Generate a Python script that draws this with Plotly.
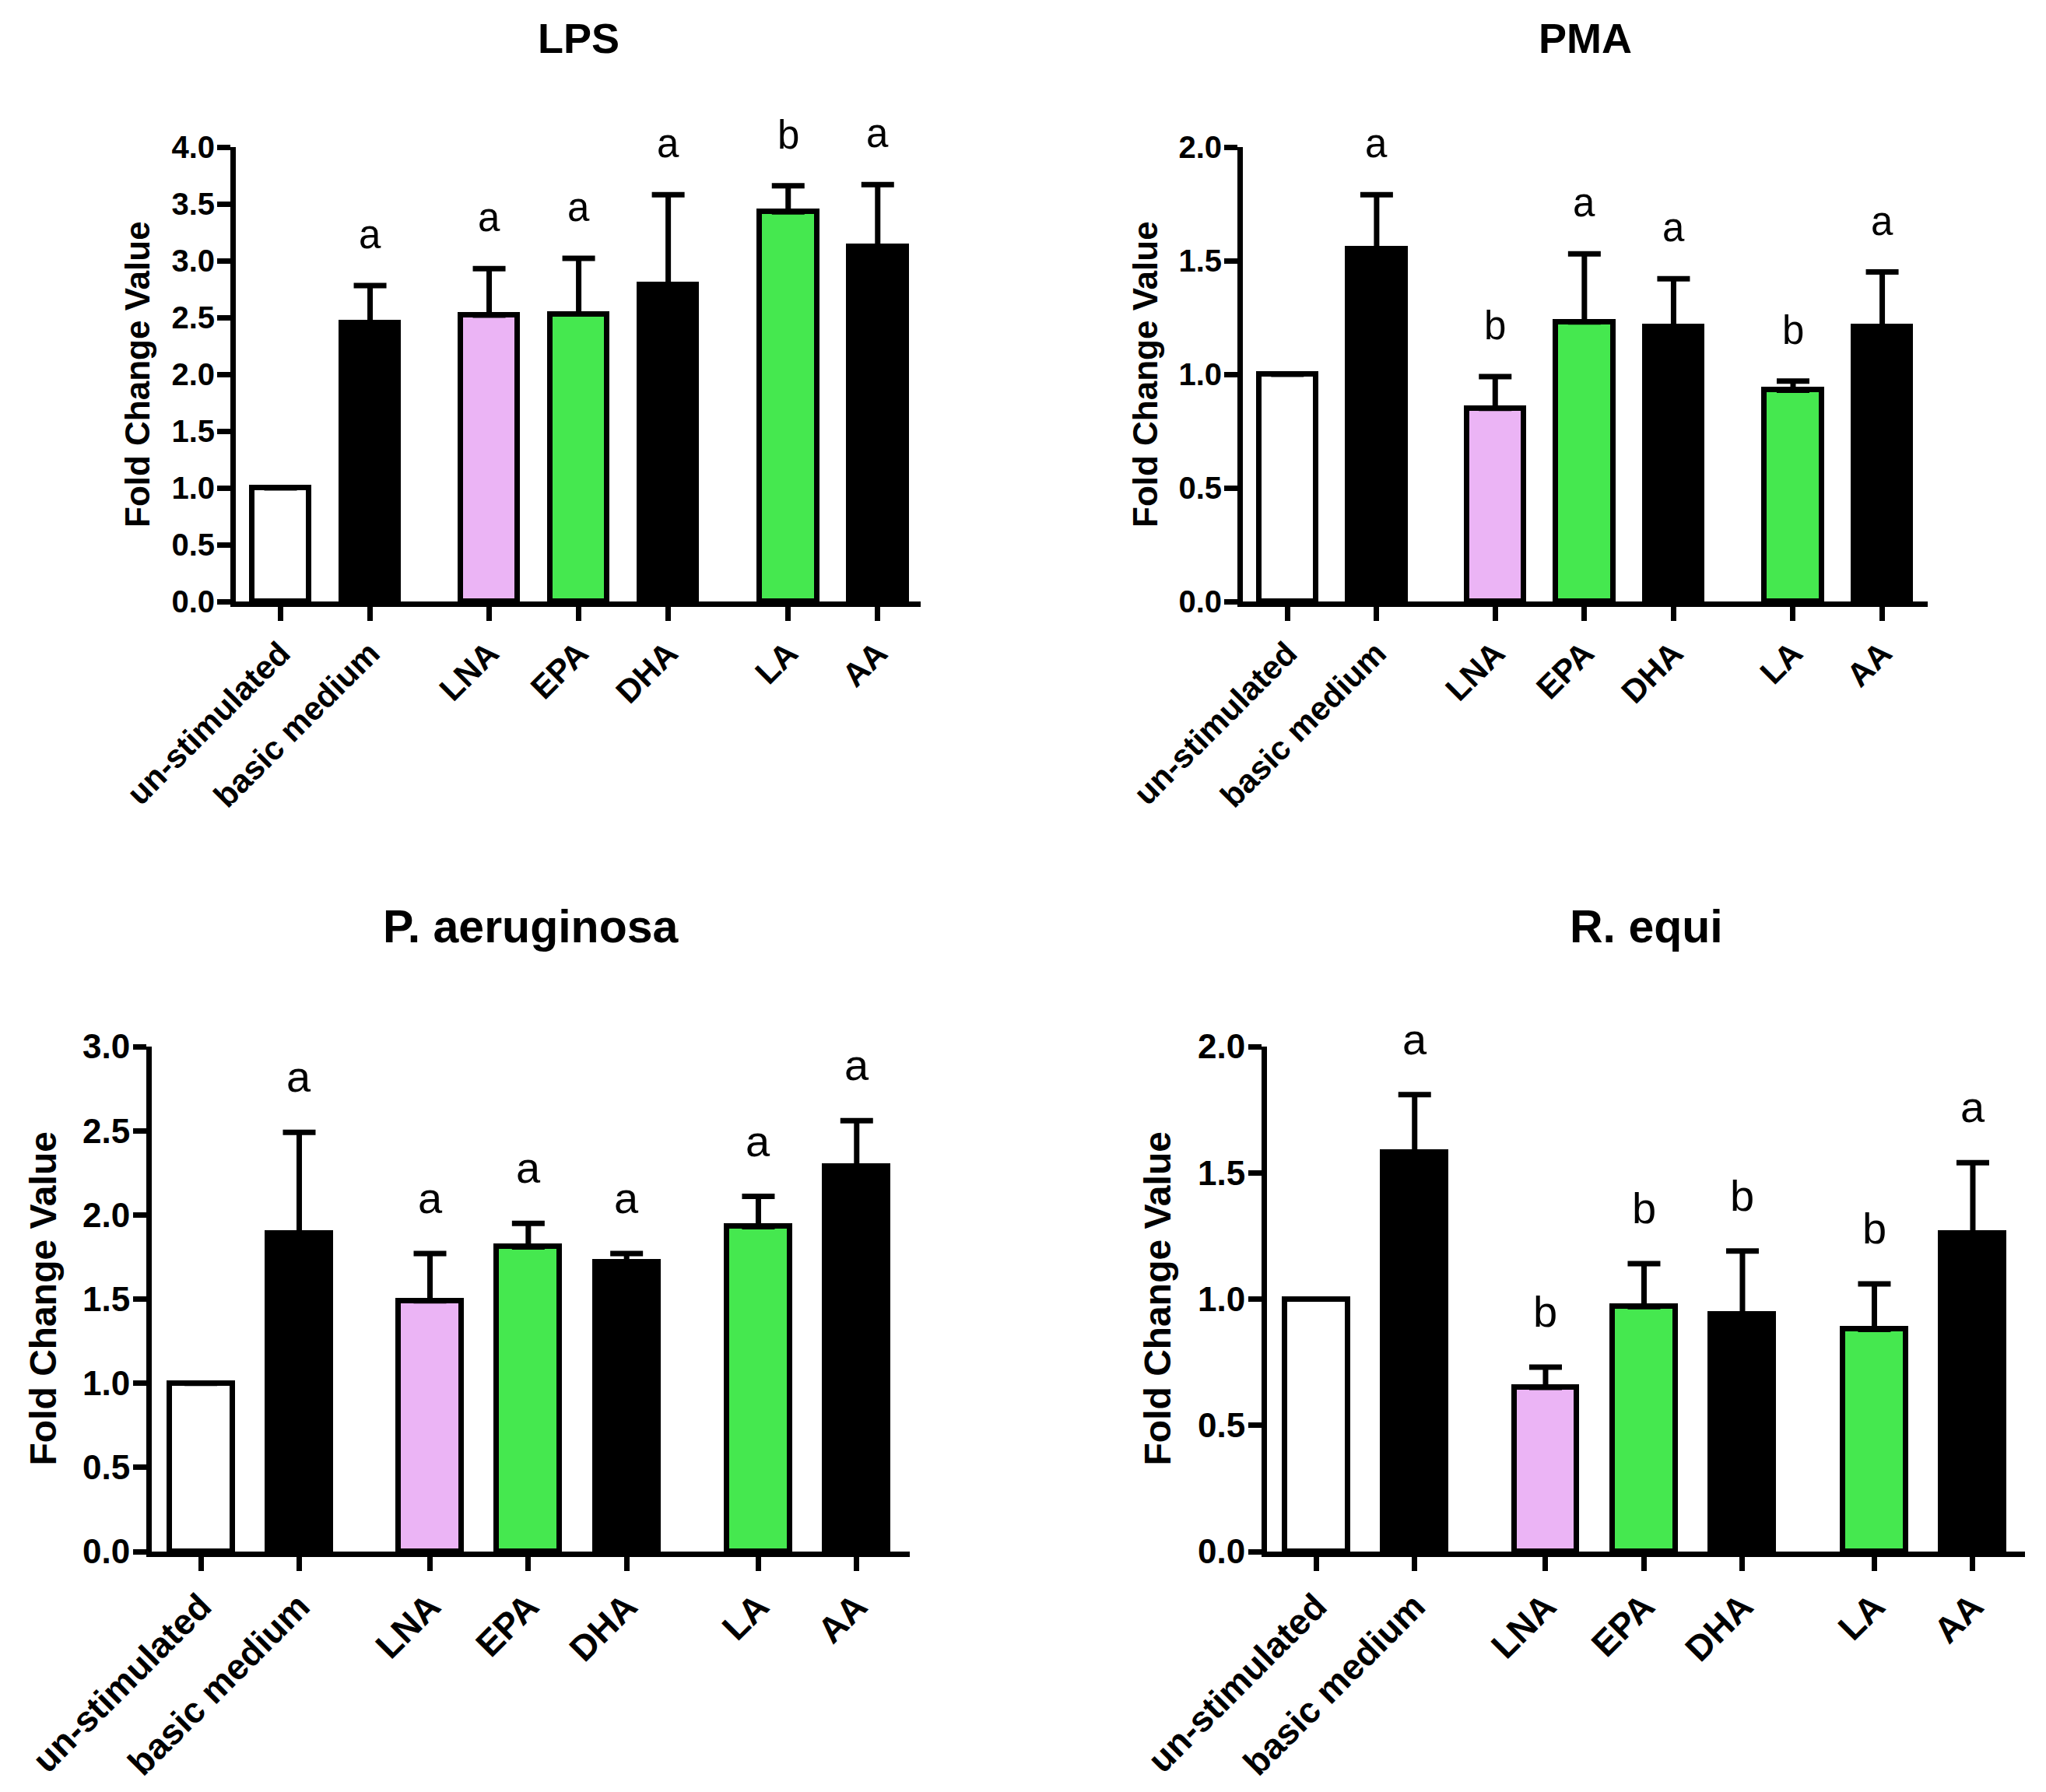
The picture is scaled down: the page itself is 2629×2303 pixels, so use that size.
import plotly.graph_objects as go

W, H = 2629, 2303
OFF = 8  # the page body adds an 8px offset

# --- data ---------------------------------------------------------------
categories = ["un-stimulated", "basic medium", "LNA", "EPA", "DHA", "LA", "AA"]

lps_mean = [1.00, 2.45, 2.52, 2.53, 2.79, 3.43, 3.12]
lps_sem = [0.00, 0.33, 0.41, 0.49, 0.79, 0.23, 0.55]
lps_letters = ["", "a", "a", "a", "a", "b", "a"]

pma_mean = [1.00, 1.55, 0.85, 1.23, 1.21, 0.93, 1.21]
pma_sem = [0.00, 0.24, 0.14, 0.30, 0.21, 0.04, 0.24]
pma_letters = ["", "a", "b", "a", "a", "b", "a"]

pae_mean = [1.00, 1.89, 1.49, 1.81, 1.72, 1.93, 2.29]
pae_sem = [0.00, 0.60, 0.28, 0.14, 0.05, 0.18, 0.27]
pae_letters = ["", "a", "a", "a", "a", "a", "a"]

req_mean = [1.00, 1.58, 0.65, 0.97, 0.94, 0.88, 1.26]
req_sem = [0.00, 0.23, 0.08, 0.17, 0.25, 0.18, 0.28]
req_letters = ["", "a", "b", "b", "b", "b", "a"]

# --- styling -------------------------------------------------------------
# bar positions with the Prism style gaps between groups
x_pos = [0, 1, 2.33, 3.33, 4.33, 5.67, 6.67]
GREEN = "#45E84F"
PINK = "#EBB4F5"  # magenta checker fill of the LNA bar, averaged
bar_colors = ["white", "black", PINK, GREEN, "black", GREEN, "black"]
FONT = "Arial, Liberation Sans, sans-serif"

# panel boxes in pixels: (left, right, top, bottom); k = text scale
panels = [
    dict(title="LPS", mean=lps_mean, sem=lps_sem, letters=lps_letters,
         ymax=4.0, box=(303, 1183, 189, 773), xr=7.15, ytx=177, tty=49, k=1.0),
    dict(title="PMA", mean=pma_mean, sem=pma_sem, letters=pma_letters,
         ymax=2.0, box=(1597, 2477, 189, 773), xr=7.18, ytx=1472, tty=49, k=1.0),
    dict(title="P. aeruginosa", mean=pae_mean, sem=pae_sem, letters=pae_letters,
         ymax=3.0, box=(195, 1169, 1345, 1994), xr=7.21, ytx=55, tty=1191, k=1.1),
    dict(title="R. equi", mean=req_mean, sem=req_sem, letters=req_letters,
         ymax=2.0, box=(1628, 2602, 1345, 1994), xr=7.2, ytx=1487, tty=1191, k=1.1),
]


def px_x(v):
    return (v - OFF) / W


def px_y(v):
    return 1 - (v - OFF) / H


fig = go.Figure()
annotations = []

for i, p in enumerate(panels, start=1):
    sfx = "" if i == 1 else str(i)
    l, r, t, b = p["box"]
    k = p["k"]

    fig.add_trace(go.Bar(
        x=x_pos, y=p["mean"], width=0.64,
        marker=dict(color=bar_colors, line=dict(color="black", width=7)),
        error_y=dict(type="data", array=p["sem"],
                     arrayminus=[0] * len(p["sem"]), symmetric=False,
                     color="black", thickness=7, width=21),
        xaxis="x" + sfx, yaxis="y" + sfx, showlegend=False,
    ))

    axis_common = dict(showline=True, linewidth=7, linecolor="black",
                       ticks="outside", tickwidth=7, tickcolor="black",
                       showgrid=False, zeroline=False, automargin=False)
    fig.layout["xaxis" + sfx] = dict(
        axis_common, domain=[px_x(l), px_x(r)], anchor="y" + sfx,
        range=[-0.5, p["xr"]], tickvals=x_pos, ticktext=categories,
        tickangle=-45, ticklen=18,
        tickfont=dict(family=FONT, size=round(42 * k), color="black", weight="bold"),
    )
    fig.layout["yaxis" + sfx] = dict(
        axis_common, domain=[px_y(b), px_y(t)], anchor="x" + sfx,
        range=[0, p["ymax"]], dtick=0.5, tickformat=".1f", ticklen=17,
        ticklabelstandoff=-5,
        tickfont=dict(family=FONT, size=round(40 * k), color="black", weight="bold"),
    )

    # panel title
    annotations.append(dict(
        text=f"<b>{p['title']}</b>", xref="paper", yref="paper",
        x=px_x((l + r) / 2), y=px_y(p["tty"]),
        showarrow=False, xanchor="center", yanchor="middle",
        font=dict(family=FONT, size=round(54 * k), color="black"),
    ))
    # y axis title
    annotations.append(dict(
        text="<b>Fold Change Value</b>", xref="paper", yref="paper",
        x=px_x(p["ytx"]), y=px_y((t + b) / 2), textangle=-90,
        showarrow=False, xanchor="center", yanchor="middle",
        font=dict(family=FONT, size=round(44 * k), color="black"),
    ))
    # significance letters
    for xp, m, s, let in zip(x_pos, p["mean"], p["sem"], p["letters"]):
        if not let:
            continue
        annotations.append(dict(
            text=let, xref="x" + sfx, yref="y" + sfx, x=xp, y=m + s,
            showarrow=False, xanchor="center", yanchor="bottom",
            yshift=round(35 * k),
            font=dict(family=FONT, size=round(51 * k), color="black"),
        ))

fig.update_layout(
    width=W, height=H,
    margin=dict(l=0, r=0, t=0, b=0, autoexpand=False),
    paper_bgcolor="white", plot_bgcolor="white",
    bargap=0, annotations=annotations,
)

fig.write_html("out.html")
